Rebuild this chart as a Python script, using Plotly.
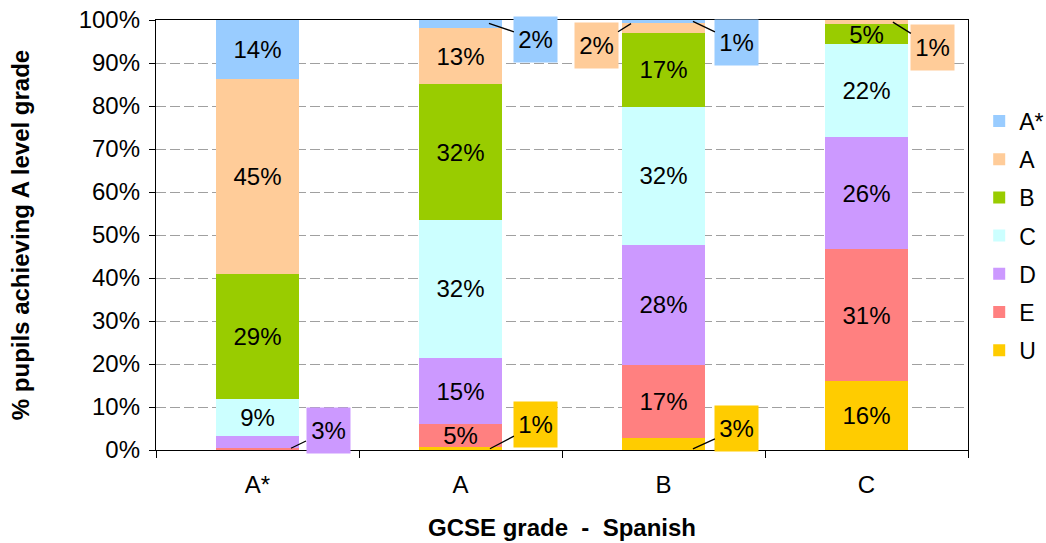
import plotly.graph_objects as go

# ---- data ----
gcse_grades = ["A*", "A", "B", "C"]
alevel_grades = ["U", "E", "D", "C", "B", "A", "A*"]
u_vals = [0.0, 0.6, 2.8, 16.0]
e_vals = [0.4, 5.4, 17.0, 30.7]
d_vals = [2.9, 15.4, 27.9, 26.0]
c_vals = [8.6, 32.1, 32.1, 21.7]
b_vals = [29.0, 31.6, 17.2, 4.6]
a_vals = [45.4, 13.0, 2.4, 1.0]
astar_vals = [13.7, 1.9, 0.6, 0.0]
y_ticks = list(range(0, 101, 10))
y_tick_labels = [f"{t}%" for t in y_ticks]

series = [u_vals, e_vals, d_vals, c_vals, b_vals, a_vals, astar_vals]
colors = ["#FFCC00", "#FF8080", "#CC99FF", "#CCFFFF", "#99CC00", "#FFCC99", "#99CCFF"]

FONT = "Arial, Liberation Sans, sans-serif"
FS = 24

# callout layout: (series index, category index) -> (x offset in category units, fraction within segment, ax, ay)
callouts = {
    (2, 0): (0.165, 0.0, 37, -18),
    (0, 1): (0.145, 0.5, 46, -24),
    (0, 2): (0.145, 0.1, 44, -20),
    (6, 1): (0.14, 0.6, 47, 16),
    (5, 2): (-0.16, 0.9, -35, 22),
    (6, 2): (0.145, 0.5, 44, 21),
    (5, 3): (0.13, 0.5, 40, 25),
}

fig = go.Figure()
n = len(alevel_grades)
for si, (name, vals, col) in enumerate(zip(alevel_grades, series, colors)):
    texts = [f"{v:.0f}%" if v >= 4 else "" for v in vals]
    fig.add_trace(go.Bar(
        x=gcse_grades, y=vals, name=name, marker=dict(color=col, line=dict(width=0)),
        text=texts, textposition="inside", insidetextanchor="middle", textangle=0,
        textfont=dict(family=FONT, size=FS, color="black"),
        legendgroup=name, legendrank=n - si, hoverinfo="skip",
    ))

annotations = []
for (si, ci), (xoff, frac, ax, ay) in callouts.items():
    base = sum(series[k][ci] for k in range(si))
    v = series[si][ci]
    annotations.append(dict(
        x=ci + xoff, y=base + frac * v, xref="x", yref="y",
        text=f"{v:.0f}%", showarrow=True, arrowhead=0, arrowwidth=1.3,
        arrowcolor="black", ax=ax, ay=ay, standoff=0, startstandoff=0,
        bgcolor=colors[si], width=43, height=45, borderpad=0,
        font=dict(family=FONT, size=FS, color="black"),
    ))

fig.update_layout(
    barmode="stack", bargap=0.59,
    width=1046, height=543,
    margin=dict(l=156, r=78, t=20, b=93, autoexpand=False),
    paper_bgcolor="white", plot_bgcolor="white",
    font=dict(family=FONT, size=FS, color="black"),
    legend=dict(x=1.0138, y=0.815, xanchor="left", yanchor="top",
                traceorder="grouped", tracegroupgap=5.3,
                font=dict(family=FONT, size=23), itemwidth=30),
    uniformtext=dict(minsize=FS, mode="show"),
    annotations=annotations,
    showlegend=True,
)
fig.update_yaxes(
    range=[0, 100], tickvals=y_ticks, ticktext=y_tick_labels,
    showgrid=True, gridcolor="#A0A0A0", griddash="10px,4px", gridwidth=1,
    showline=True, linecolor="black", linewidth=1.3, mirror=True,
    ticks="outside", ticklen=6, tickcolor="black",
    tickfont=dict(family=FONT, size=FS), ticklabelstandoff=4,
    ticklabeloverflow="allow",
    title=dict(text="<b>% pupils achieving A level grade</b>", standoff=42,
               font=dict(family=FONT, size=FS)),
    zeroline=False, automargin=False,
)
fig.update_xaxes(
    showline=True, linecolor="black", linewidth=1.3, mirror=True,
    ticks="outside", tickson="boundaries", ticklen=7, tickcolor="black",
    tickfont=dict(family=FONT, size=FS), ticklabelstandoff=13,
    title=dict(text="<b>GCSE grade  -  Spanish</b>", standoff=22,
               font=dict(family=FONT, size=FS)),
    automargin=False,
)

fig.write_html("out.html", config={"displayModeBar": False},
               post_script="document.body.style.margin='0px';document.body.style.overflow='hidden';")
